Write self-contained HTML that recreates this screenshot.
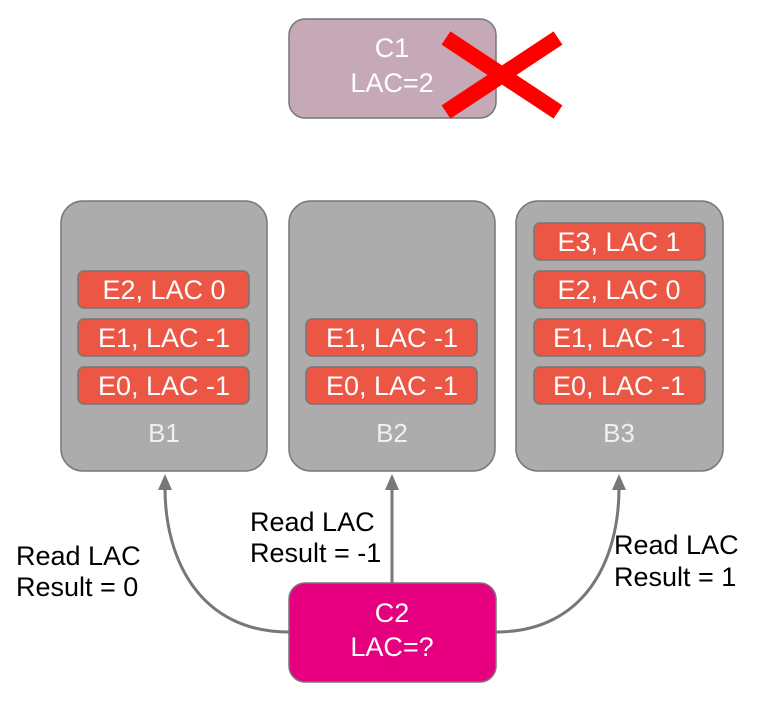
<!DOCTYPE html>
<html><head><meta charset="utf-8"><style>
html,body{margin:0;padding:0;background:#fff;}
svg{display:block;font-family:"Liberation Sans",Arial,sans-serif;}
</style></head><body>
<svg width="763" height="705" viewBox="0 0 763 705" xmlns="http://www.w3.org/2000/svg">
<!-- C1 -->
<rect x="289" y="19" width="207" height="99" rx="16" fill="#c5a9b7" stroke="#777" stroke-width="1.5"/>
<text x="392" y="57" font-size="27" fill="#fff" text-anchor="middle">C1</text>
<text x="392" y="92" font-size="27" fill="#fff" text-anchor="middle">LAC=2</text>
<line x1="446" y1="38" x2="558" y2="112" stroke="#f00" stroke-width="16"/>
<line x1="446" y1="112" x2="558" y2="38" stroke="#f00" stroke-width="16"/>
<!-- B boxes -->
<rect x="61" y="201" width="206" height="270" rx="22" fill="#acacac" stroke="#777" stroke-width="1.5"/>
<rect x="289" y="201" width="206" height="270" rx="22" fill="#acacac" stroke="#777" stroke-width="1.5"/>
<rect x="516" y="201" width="207" height="270" rx="22" fill="#acacac" stroke="#777" stroke-width="1.5"/>
<g font-size="26" fill="#f0f0f0" text-anchor="middle">
<text x="164" y="442">B1</text>
<text x="392" y="442">B2</text>
<text x="619" y="442">B3</text>
</g>
<g stroke="#777" stroke-width="1.5" fill="#eb5645">
<rect x="78" y="271" width="171" height="37" rx="6"/>
<rect x="78" y="319" width="171" height="37" rx="6"/>
<rect x="78" y="367" width="171" height="37" rx="6"/>
<rect x="306" y="319" width="171" height="37" rx="6"/>
<rect x="306" y="367" width="171" height="37" rx="6"/>
<rect x="534" y="223" width="171" height="37" rx="6"/>
<rect x="534" y="271" width="171" height="37" rx="6"/>
<rect x="534" y="319" width="171" height="37" rx="6"/>
<rect x="534" y="367" width="171" height="37" rx="6"/>
</g>
<g font-size="27" fill="#fff" text-anchor="middle">
<text x="164" y="299">E2, LAC 0</text>
<text x="164" y="347">E1, LAC -1</text>
<text x="164" y="395">E0, LAC -1</text>
<text x="392" y="347">E1, LAC -1</text>
<text x="392" y="395">E0, LAC -1</text>
<text x="619" y="251">E3, LAC 1</text>
<text x="619" y="299">E2, LAC 0</text>
<text x="619" y="347">E1, LAC -1</text>
<text x="619" y="395">E0, LAC -1</text>
</g>
<!-- connectors -->
<g stroke="#777" stroke-width="3" fill="none">
<path d="M289 632 C 200 632 165 560 165 488"/>
<line x1="392" y1="583" x2="392" y2="488"/>
<path d="M496 632 C 585 632 619 560 619 488"/>
</g>
<g fill="#777">
<polygon points="158,490 172,490 165,474"/>
<polygon points="385,490 399,490 392,474"/>
<polygon points="612,490 626,490 619,474"/>
</g>
<!-- C2 -->
<rect x="289" y="583" width="207" height="99" rx="16" fill="#e6007f" stroke="#777" stroke-width="1.5"/>
<text x="392" y="622" font-size="27" fill="#fff" text-anchor="middle">C2</text>
<text x="392" y="656" font-size="27" fill="#fff" text-anchor="middle">LAC=?</text>
<!-- labels -->
<g font-size="27" fill="#000">
<text x="16" y="565">Read LAC</text>
<text x="16" y="596">Result = 0</text>
<text x="250" y="531">Read LAC</text>
<text x="250" y="562">Result = -1</text>
<text x="614" y="554">Read LAC</text>
<text x="614" y="586">Result = 1</text>
</g>
</svg>
</body></html>
